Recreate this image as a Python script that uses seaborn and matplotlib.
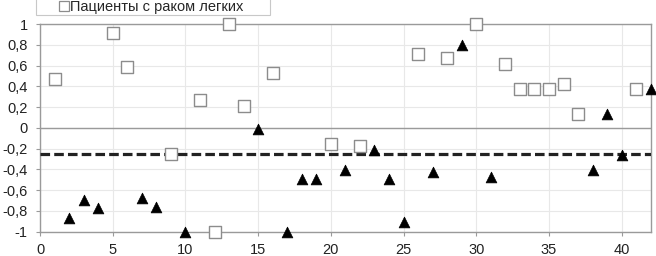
import matplotlib
matplotlib.use("Agg")
import matplotlib.pyplot as plt
from matplotlib.lines import Line2D
from matplotlib.patches import Rectangle
import pandas as pd
import seaborn as sns

# patients with lung cancer (hollow squares)
cancer_x = [1, 5, 6, 9, 11, 12, 13, 14, 16, 20, 22, 26, 28, 30, 32, 33, 34, 35, 36, 37, 41]
cancer_y = [0.47, 0.91, 0.59, -0.25, 0.27, -1.0, 1.0, 0.21, 0.53, -0.155, -0.175,
            0.71, 0.67, 1.0, 0.615, 0.37, 0.37, 0.37, 0.42, 0.13, 0.37]

# other subjects (black triangles)
other_x = [2, 3, 4, 7, 8, 10, 15, 17, 18, 19, 21, 23, 24, 25, 27, 29, 31, 38, 39, 40, 42]
other_y = [-0.865, -0.695, -0.77, -0.68, -0.76, -1.0, -0.01, -1.0, -0.49, -0.49, -0.41,
           -0.21, -0.49, -0.91, -0.425, 0.80, -0.47, -0.41, 0.13, -0.26, 0.37]

threshold = -0.25
legend_label = "Пациенты с раком легких"
x_ticks = list(range(0, 45, 5))
y_ticks = [-1, -0.8, -0.6, -0.4, -0.2, 0, 0.2, 0.4, 0.6, 0.8, 1]

cancer = pd.DataFrame({"x": cancer_x, "y": cancer_y})
other = pd.DataFrame({"x": other_x, "y": other_y})

sns.set_style("white")
plt.rcParams["font.family"] = ["Liberation Sans", "DejaVu Sans"]

fig = plt.figure(figsize=(6.56, 2.56), dpi=100)
ax = fig.add_axes([0.061, 0.095, 0.931, 0.811])

sns.scatterplot(data=other, x="x", y="y", marker="^", s=60, color="black",
                edgecolor="black", linewidth=0.5, ax=ax, zorder=4, clip_on=False)
sns.scatterplot(data=cancer, x="x", y="y", marker="s", s=85, facecolor="white",
                edgecolor="#8c8c8c", linewidth=1.0, ax=ax, zorder=5, clip_on=False)

ax.axhline(threshold, color="#222222", linestyle=(0, (3.0, 1.3)), linewidth=2.3, zorder=3)
ax.axhline(0, color="#9a9a9a", linewidth=1.0, zorder=2)

ax.set_xlim(0, 42)
ax.set_ylim(-1, 1)
ax.set_xticks(x_ticks)
ax.set_yticks(y_ticks)
ax.set_yticklabels([("%g" % v).replace(".", ",") for v in y_ticks])
ax.grid(True, color="#e8e8e8", linewidth=0.8)
ax.set_axisbelow(True)
ax.set_xlabel("")
ax.set_ylabel("")
ax.tick_params(axis="both", labelsize=10.5, labelcolor="#222222", colors="#9a9a9a",
               length=3, width=0.8, direction="out")
ax.tick_params(axis="y", pad=6)
ax.tick_params(axis="x", pad=5)
ax.yaxis.set_ticks_position("left")
ax.xaxis.set_ticks_position("bottom")
for side in ["top", "right", "left", "bottom"]:
    ax.spines[side].set_color("#9a9a9a")
    ax.spines[side].set_linewidth(1.0)

# legend box, its top runs off the picture
fig.patches.append(Rectangle((36 / 656, 1 - 15 / 256), 234 / 656, 0.2,
                             transform=fig.transFigure, facecolor="white",
                             edgecolor="#c8c8c8", linewidth=0.8))
handle = Line2D([], [], marker="s", linestyle="none", markersize=6.5,
                markerfacecolor="white", markeredgecolor="#8c8c8c", markeredgewidth=0.9)
fig.legend([handle], [legend_label], loc="center left",
           bbox_to_anchor=(58 / 656, 1 - 7 / 256), frameon=False, fontsize=10.5,
           handletextpad=0.05, handlelength=0.8, borderpad=0, borderaxespad=0)

fig.savefig("out.png", dpi=100)
